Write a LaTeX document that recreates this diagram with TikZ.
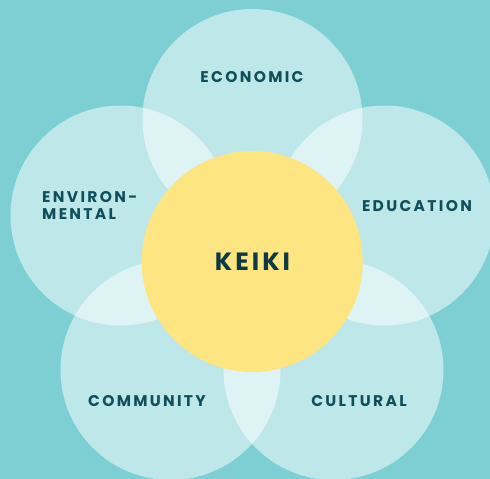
\documentclass[tikz,border=0pt]{standalone}
\usepackage{fontspec}
\setmainfont{Poppins}
\newfontfamily\labfont{Poppins}[LetterSpace=15]
\newfontfamily\keikifont{Poppins}[LetterSpace=12]
\definecolor{bgteal}{HTML}{7ECFD4}
\definecolor{sunny}{HTML}{FDE582}
\definecolor{labcol}{HTML}{0F4F5C}
\definecolor{keicol}{HTML}{0C3A40}
\tikzset{
  petal/.style={circle, minimum size=220pt, inner sep=0pt, fill=white, fill opacity=0.5, draw=none},
  heart/.style={circle, minimum size=221pt, inner sep=0pt, fill=sunny, draw=none},
  lab/.style={text=labcol, font=\labfont\bfseries\fontsize{15.5}{17}\selectfont, inner sep=0pt},
}
\begin{document}
\begin{tikzpicture}[x=1pt,y=-1pt]
\useasboundingbox (0,0) rectangle (490,479);
\clip (0,0) rectangle (490,479);
\fill[bgteal] (0,0) rectangle (490,479);
\node[petal] (eco) at (252.5,119) {};
\node[petal] (env) at (120.5,215.5) {};
\node[petal] (edu) at (384.5,215.5) {};
\node[petal] (com) at (170.5,370) {};
\node[petal] (cul) at (333.5,370) {};
\node[heart] (keiki) at (252.2,261.5) {};
\node[text=keicol, font=\keikifont\bfseries\fontsize{25}{25}\selectfont, inner sep=0pt] (kt) at (252.5,261.5) {KEIKI};
\node[lab] (ecot) at (252,77) {ECONOMIC};
\node[lab, anchor=west, align=left] (envt) at (42,205.5) {ENVIRON-\\MENTAL};
\node[lab] (edut) at (417,206) {EDUCATION};
\node[lab] (comt) at (147,401) {COMMUNITY};
\node[lab] (cult) at (359,401) {CULTURAL};
\end{tikzpicture}
\end{document}
